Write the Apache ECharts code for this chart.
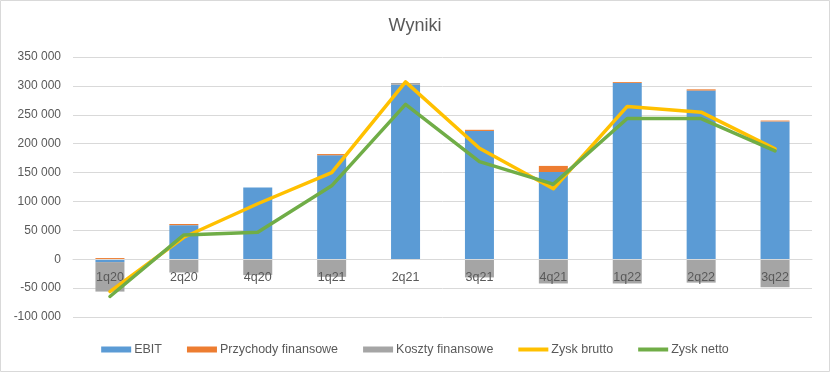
<!DOCTYPE html>
<html>
<head>
<meta charset="utf-8">
<script src="https://cdn.jsdelivr.net/npm/echarts@6/dist/echarts.min.js"></script>
<style>
html,body{margin:0;padding:0;background:#fff;}
#c{width:830px;height:372px;}
</style>
</head>
<body>
<div id="c"></div>
<script>
const categories = ['1q20','2q20','4q20','1q21','2q21','3q21','4q21','1q22','2q22','3q22'];
const ebit = [-5000, 59000, 124000, 180000, 302000, 222000, 151000, 305000, 292000, 238500];
const przychody = [2000, 2000, 0, 2000, 0, 2000, 10500, 1500, 2000, 1500];
const koszty = [-51000, -23000, -27500, -30500, 3000, -31500, -42000, -42000, -40500, -48500];
const zyskBrutto = [-56000, 38000, 96000, 150000, 307000, 192000, 122000, 264500, 254500, 191000];
const zyskNetto = [-64500, 42000, 46500, 127000, 268000, 169000, 130000, 243500, 243500, 187500];
const seriesNames = ['EBIT', 'Przychody finansowe', 'Koszty finansowe', 'Zysk brutto', 'Zysk netto'];

const FONT = "'Liberation Sans', Arial, sans-serif";
const TXT = '#595959';
const LINE_ICON = 'path://M0,0L0,0M0,1h30v4h-30zM0,6L0,6';
function fmt(v){
  const s = String(Math.abs(v)).replace(/\B(?=(\d{3})+(?!\d))/g, ' ');
  return (v < 0 ? '-' : '') + s;
}
const chart = echarts.init(document.getElementById('c'), null, {renderer:'canvas'});
chart.setOption({
  animation: false,
  textStyle: {fontFamily: FONT},
  title: {
    text: 'Wyniki', left: 'center', top: 12,
    textStyle: {fontFamily: FONT, fontSize: 18, fontWeight: 'normal', color: TXT}
  },
  graphic: [{
    type: 'rect', silent: true,
    shape: {x: 0.5, y: 0.5, width: 829, height: 371},
    style: {fill: 'none', stroke: '#d9d9d9', lineWidth: 1}
  }],
  legend: {
    bottom: 11, left: 'center',
    itemWidth: 30, itemHeight: 6, itemGap: 25,
    textStyle: {fontFamily: FONT, fontSize: 12.5, color: TXT, padding: [0,0,0,-2]},
    data: [
      {name: seriesNames[0], icon: 'rect'},
      {name: seriesNames[1], icon: 'rect'},
      {name: seriesNames[2], icon: 'rect'},
      {name: seriesNames[3], icon: LINE_ICON, itemStyle: {color: '#FFC000'}},
      {name: seriesNames[4], icon: LINE_ICON, itemStyle: {color: '#70AD47'}}
    ]
  },
  grid: {left: 73, right: 18, top: 57, bottom: 55, containLabel: false},
  xAxis: {
    type: 'category', data: categories, z: 3,
    position: 'bottom', offset: -57.8,
    axisLine: {show: true, onZero: false, lineStyle: {color: '#d9d9d9'}},
    axisTick: {show: false},
    axisLabel: {color: TXT, fontFamily: FONT, fontSize: 12.5, margin: 12},
    splitLine: {show: false}
  },
  yAxis: {
    type: 'value', min: -100000, max: 350000, interval: 50000,
    axisLine: {show: false}, axisTick: {show: false},
    axisLabel: {color: TXT, fontFamily: FONT, fontSize: 12, margin: 12, formatter: fmt},
    splitLine: {lineStyle: {color: '#d9d9d9', width: 1}}
  },
  series: [
    {name: seriesNames[0], type: 'bar', stack: 's', data: ebit, barWidth: 29, itemStyle: {color: '#5B9BD5'}, z: 2},
    {name: seriesNames[1], type: 'bar', stack: 's', data: przychody, barWidth: 29, itemStyle: {color: '#ED7D31'}, z: 2},
    {name: seriesNames[2], type: 'bar', stack: 's', data: koszty, barWidth: 29, itemStyle: {color: '#A5A5A5'}, z: 2},
    {name: seriesNames[3], type: 'line', data: zyskBrutto, symbol: 'none', showSymbol: false, z: 5,
      lineStyle: {color: '#FFC000', width: 3.5, cap: 'round', join: 'round'}, itemStyle: {color: '#FFC000'}},
    {name: seriesNames[4], type: 'line', data: zyskNetto, symbol: 'none', showSymbol: false, z: 5,
      lineStyle: {color: '#70AD47', width: 3.5, cap: 'round', join: 'round'}, itemStyle: {color: '#70AD47'}}
  ]
});
</script>
</body>
</html>
